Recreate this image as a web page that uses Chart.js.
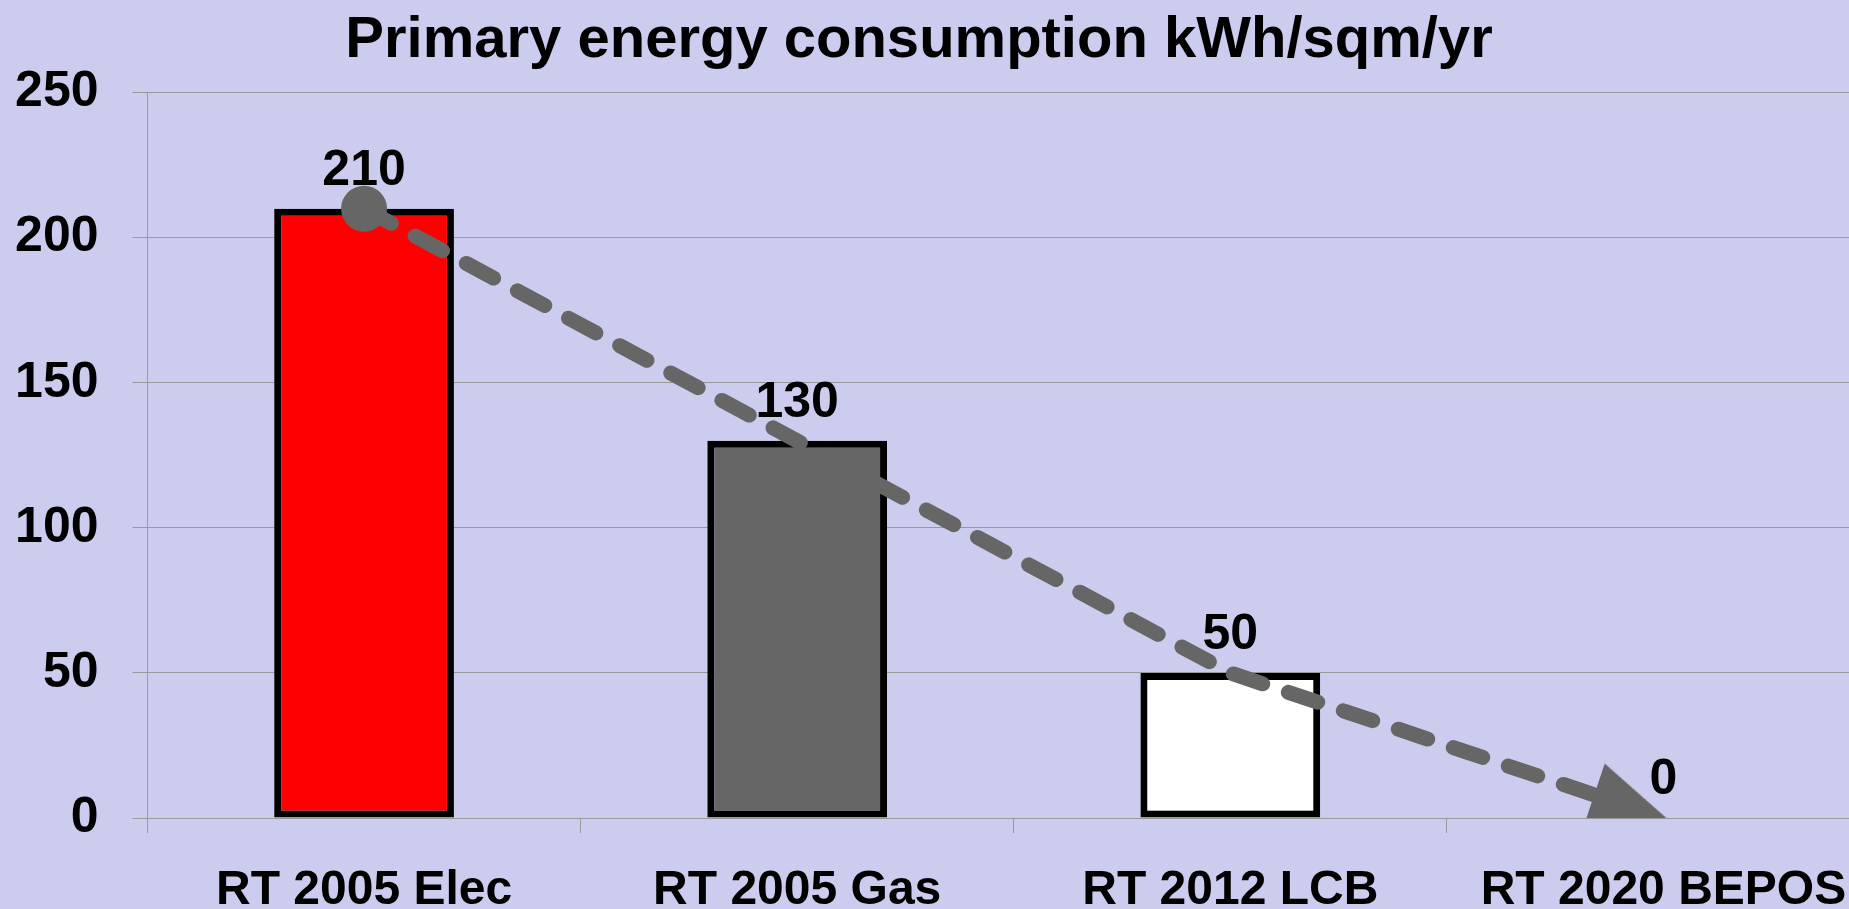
<!DOCTYPE html>
<html>
<head>
<meta charset="utf-8">
<title>Primary energy consumption</title>
<script src="https://cdn.jsdelivr.net/npm/chart.js@4.4.1/dist/chart.umd.min.js"></script>
<style>
  html, body { margin: 0; padding: 0; background: #ccccee; overflow: hidden; width: 1849px; height: 909px; }
  /* the plot runs past the right edge in the original, so the canvas is wider than the window */
  #chart { position: absolute; left: -42px; top: 0; }
</style>
</head>
<body>
<canvas id="chart" width="1922" height="909"></canvas>
<script>
const categories = ['RT 2005 Elec', 'RT 2005 Gas', 'RT 2012 LCB', 'RT 2020 BEPOS'];
const energyValues = [210, 130, 50, 0];
const trendValues = [210, 130, 50, 0];
const yTicks = [0, 50, 100, 150, 200, 250];
const barColors = ['#ff0000', '#666666', '#ffffff', 'rgba(0,0,0,0)'];

const FONT = '"Liberation Sans", Arial, Helvetica, sans-serif';
const GRID = '#999999';
const TREND = '#666666';

// arrow head for the end of the trend line, tip in the middle of the image
const arrowHead = document.createElement('canvas');
arrowHead.width = 170;
arrowHead.height = 170;
const ah = arrowHead.getContext('2d');
ah.fillStyle = TREND;
ah.beginPath();
ah.moveTo(90, 85);
ah.lineTo(12, 52);
ah.lineTo(12, 118);
ah.closePath();
ah.fill();

// values written above the bars, drawn before the trend line so it sits on top
const valueLabels = {
  id: 'valueLabels',
  afterDatasetDraw(chart, args) {
    if (args.index !== 0) return;
    const { ctx, scales } = chart;
    ctx.save();
    ctx.font = 'bold 50px ' + FONT;
    ctx.fillStyle = '#000';
    ctx.textAlign = 'center';
    ctx.textBaseline = 'alphabetic';
    energyValues.forEach((v, i) => {
      ctx.fillText(String(v), scales.x.getPixelForValue(i), scales.y.getPixelForValue(v) - 24);
    });
    ctx.restore();
  }
};

new Chart(document.getElementById('chart'), {
  type: 'bar',
  data: {
    labels: categories,
    datasets: [
      {
        type: 'bar',
        data: energyValues,
        order: 2,
        backgroundColor: barColors,
        borderColor: '#000000',
        borderWidth: 7,
        borderSkipped: false,
        categoryPercentage: 1,
        barPercentage: 0.415
      },
      {
        type: 'line',
        data: trendValues,
        order: 1,
        clip: 0,
        borderColor: TREND,
        borderWidth: 15,
        borderDash: [31, 27],
        borderCapStyle: 'round',
        tension: 0,
        fill: false,
        pointBackgroundColor: TREND,
        pointBorderWidth: 0,
        pointRadius: ctx => ctx.dataIndex === 0 ? 23 : (ctx.dataIndex === trendValues.length - 1 ? 40 : 0),
        pointStyle: ctx => ctx.dataIndex === trendValues.length - 1 ? arrowHead : 'circle',
        pointRotation: ctx => {
          const i = ctx.dataIndex;
          if (!(i > 0)) return 0;
          const x = ctx.chart.scales.x, y = ctx.chart.scales.y;
          const dx = x.getPixelForValue(i) - x.getPixelForValue(i - 1);
          const dy = y.getPixelForValue(trendValues[i]) - y.getPixelForValue(trendValues[i - 1]);
          return Math.atan2(dy, dx) * 180 / Math.PI;
        }
      }
    ]
  },
  options: {
    responsive: false,
    animation: false,
    devicePixelRatio: 1,
    events: [],
    layout: { padding: 0, autoPadding: false },
    plugins: {
      legend: { display: false },
      tooltip: { enabled: false },
      title: {
        display: true,
        text: 'Primary energy consumption kWh/sqm/yr',
        color: '#000',
        font: { family: FONT, size: 58, weight: 'bold' },
        padding: { top: 6, bottom: 17 }
      }
    },
    scales: {
      x: {
        offset: true,
        grid: { display: true, drawOnChartArea: false, drawTicks: true, tickLength: 15, color: GRID, offset: true },
        border: { color: GRID, width: 1 },
        ticks: { color: '#000', padding: 29, font: { family: FONT, size: 48, weight: 'bold' } },
        afterFit: scale => { scale.height = 91; }
      },
      y: {
        min: yTicks[0],
        max: yTicks[yTicks.length - 1],
        afterBuildTicks: scale => { scale.ticks = yTicks.map(v => ({ value: v })); },
        grid: { color: GRID, lineWidth: 1, tickLength: 15 },
        border: { color: GRID, width: 1 },
        ticks: { color: '#000', padding: 34, font: { family: FONT, size: 50, weight: 'bold' } },
        afterFit: scale => { scale.width = 189.5; }
      }
    }
  },
  plugins: [valueLabels]
});
</script>
</body>
</html>
